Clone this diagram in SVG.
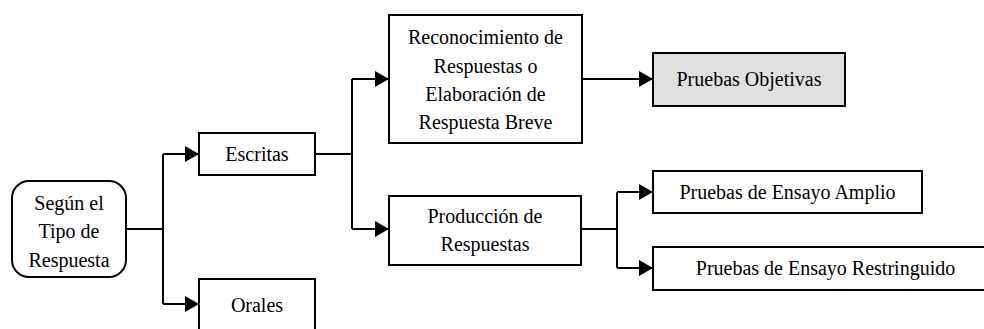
<svg xmlns="http://www.w3.org/2000/svg" width="984" height="329" viewBox="0 0 984 329">
<defs>
<style>
.box{fill:#ffffff;stroke:#000000;stroke-width:2}
.gray{fill:#e0e0e0}
.t{font-family:"Liberation Serif","Times New Roman",serif;font-size:20px;fill:#000000;text-anchor:middle}
.c{fill:none;stroke:#000000;stroke-width:2}
</style>
<marker id="ah" markerUnits="userSpaceOnUse" markerWidth="14" markerHeight="16" refX="14" refY="8" orient="auto" viewBox="0 0 14 16">
<path d="M0,0 L14,8 L0,16 z" fill="#000000"/>
</marker>
</defs>
<rect width="984" height="329" fill="#ffffff"/>
<g id="connectors">
<path class="c" d="M126,229 H163"/>
<path class="c" d="M163,154 V304"/>
<path class="c" d="M163,154 H199" marker-end="url(#ah)"/>
<path class="c" d="M163,304 H199" marker-end="url(#ah)"/>
<path class="c" d="M315,154 H352"/>
<path class="c" d="M352,79 V229"/>
<path class="c" d="M352,79 H389" marker-end="url(#ah)"/>
<path class="c" d="M352,229 H389" marker-end="url(#ah)"/>
<path class="c" d="M582,79 H653" marker-end="url(#ah)"/>
<path class="c" d="M581,229 H617"/>
<path class="c" d="M617,192 V268"/>
<path class="c" d="M617,192 H653" marker-end="url(#ah)"/>
<path class="c" d="M617,268 H653" marker-end="url(#ah)"/>
</g>
<g id="segun">
<rect class="box" x="12" y="181" width="114" height="96" rx="17"/>
<text class="t" x="69" y="210">Según el</text>
<text class="t" x="69" y="238">Tipo de</text>
<text class="t" x="69" y="267">Respuesta</text>
</g>
<g id="escritas">
<rect class="box" x="199" y="133" width="116" height="42"/>
<text class="t" x="257" y="161">Escritas</text>
</g>
<g id="orales">
<rect class="box" x="199" y="279" width="116" height="60"/>
<text class="t" x="257" y="312">Orales</text>
</g>
<g id="reconocimiento">
<rect class="box" x="389" y="15" width="193" height="128"/>
<text class="t" x="485.5" y="44">Reconocimiento de</text>
<text class="t" x="485.5" y="73">Respuestas o</text>
<text class="t" x="485.5" y="101">Elaboración de</text>
<text class="t" x="485.5" y="129">Respuesta Breve</text>
</g>
<g id="objetivas">
<rect class="box gray" x="653" y="53" width="192" height="53"/>
<text class="t" x="749" y="86">Pruebas Objetivas</text>
</g>
<g id="produccion">
<rect class="box" x="389" y="196" width="192" height="69"/>
<text class="t" x="485" y="223">Producción de</text>
<text class="t" x="485" y="251">Respuestas</text>
</g>
<g id="amplio">
<rect class="box" x="653" y="171" width="269" height="42"/>
<text class="t" x="787.5" y="199">Pruebas de Ensayo Amplio</text>
</g>
<g id="restringuido">
<rect class="box" x="653" y="247" width="345" height="43"/>
<text class="t" x="825.5" y="275">Pruebas de Ensayo Restringuido</text>
</g>
</svg>
